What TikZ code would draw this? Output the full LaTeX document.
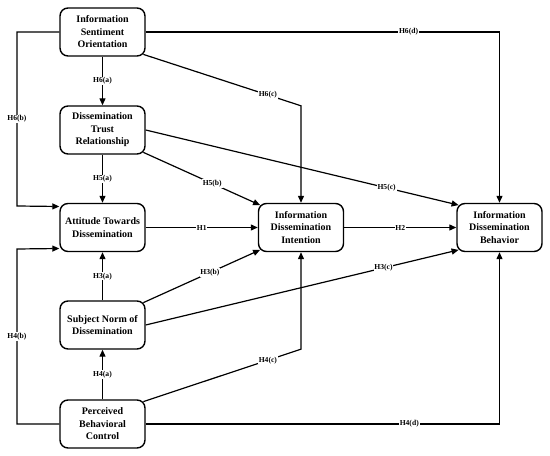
\documentclass[tikz,border=0pt]{standalone}
\usepackage{fontspec}
\setmainfont{Liberation Serif}
\usetikzlibrary{arrows.meta}
\begin{document}
\begin{tikzpicture}[x=1pt,y=1pt,
construct/.style={draw,fill=white,rounded corners=8pt,line width=1.4pt,
  minimum width=85pt,minimum height=48pt,align=center,inner sep=2pt,
  font=\fontsize{10}{12.5}\selectfont\bfseries},
hyp/.style={fill=white,inner sep=0.8pt,font=\fontsize{7.6}{8}\selectfont\bfseries},
link/.style={line width=1.2pt,-{Triangle[length=7pt,width=6pt]}},
]
\useasboundingbox (0,0) rectangle (550,456);

%Sentiment
\node[construct] (iso) at (102.5,424){Information\\Sentiment\\Orientation};

%Trust
\node[construct] (dtr) at (102.5,326){Dissemination\\Trust\\Relationship};

%Attitude
\node[construct] (atd) at (102.5,228.5){Attitude Towards\\Dissemination};

%Subject Norm
\node[construct] (snd) at (102.5,131){Subject Norm of\\Dissemination};

%Perceived Control
\node[construct] (pbc) at (102.5,32){Perceived\\Behavioral\\Control};

%Intention
\node[construct] (idi) at (301,228.5){Information\\Dissemination\\Intention};

%Behavior
\node[construct] (idb) at (499.5,228.5){Information\\Dissemination\\Behavior};


%%%%%%%%%%%%%%%%%Sentiment paths%%%%%%%%%%%%%%
\draw[link] (iso.south) -- (dtr.north) node [midway, hyp] {H6(a)};
\draw[link] (iso.west) -- (17,424) -- node [hyp] {H6(b)} (17,250) -- ([yshift=21pt]atd.west);
\draw[link] ([shift={(-2.3,2.3)}]iso.south east) -- node [pos=0.79, hyp] {H6(c)} ([yshift=97pt]idi.north) -- (idi.north);
\draw[link] (iso.east) -- node [pos=0.743, hyp] {H6(d)} (iso.east -| idb.north) -- (idb.north);

%%%%%%%%%%%%%%%%%Trust paths%%%%%%%%%%%%%%
\draw[link] (dtr.south) -- (atd.north) node [midway, hyp] {H5(a)};
\draw[link] ([shift={(-2.3,2.3)}]dtr.south east) -- ([shift={(2.3,-2.3)}]idi.north west) node [pos=0.59, hyp] {H5(b)};
\draw[link] (dtr.east) -- ([shift={(2.3,-2.3)}]idb.north west) node [pos=0.77, hyp] {H5(c)};

%%%%%%%%%%%%%%%%%Main paths%%%%%%%%%%%%%%
\draw[link] (atd.east) -- (idi.west) node [midway, hyp] {H1};
\draw[link] (idi.east) -- (idb.west) node [midway, hyp] {H2};

%%%%%%%%%%%%%%%%%Norm paths%%%%%%%%%%%%%%
\draw[link] (snd.north) -- (atd.south) node [midway, hyp] {H3(a)};
\draw[link] ([shift={(-2.3,-2.3)}]snd.north east) -- ([shift={(2.3,2.3)}]idi.south west) node [pos=0.57, hyp] {H3(b)};
\draw[link] (snd.east) -- ([shift={(2.3,2.3)}]idb.south west) node [pos=0.76, hyp] {H3(c)};

%%%%%%%%%%%%%%%%%Control paths%%%%%%%%%%%%%%
\draw[link] (pbc.north) -- (snd.south) node [midway, hyp] {H4(a)};
\draw[link] (pbc.west) -- (17,32) -- node [hyp] {H4(b)} (17,207) -- ([yshift=-21pt]atd.west);
\draw[link] ([shift={(-2.3,-2.3)}]pbc.north east) -- node [pos=0.79, hyp] {H4(c)} ([yshift=-97pt]idi.south) -- (idi.south);
\draw[link] (pbc.east) -- node [pos=0.745, hyp] {H4(d)} (pbc.east -| idb.south) -- (idb.south);

\end{tikzpicture}
\end{document}
